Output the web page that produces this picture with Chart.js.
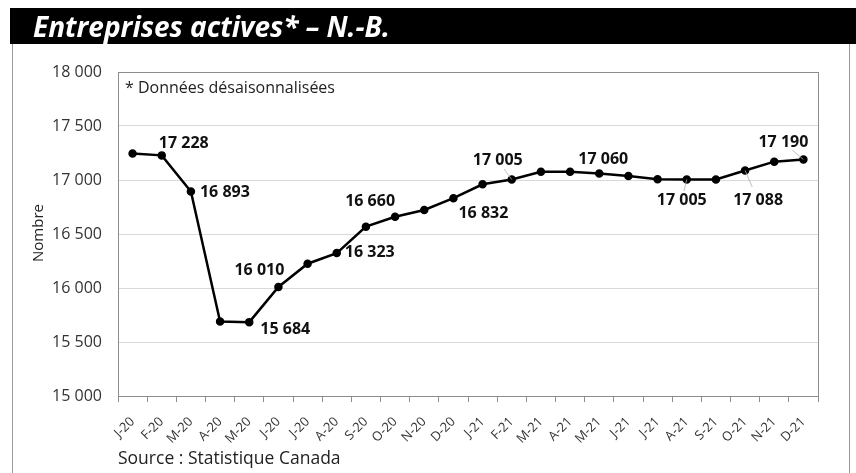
<!DOCTYPE html>
<html>
<head>
<meta charset="utf-8">
<script src="https://cdn.jsdelivr.net/npm/chart.js@4/dist/chart.umd.min.js"></script>
<style>
  html, body { margin: 0; padding: 0; background: #fff; }
  #wrap { width: 856px; height: 473px; position: relative; }
</style>
</head>
<body>
<div id="wrap"><canvas id="chart" width="856" height="473"></canvas></div>
<script>
// Monthly labels, Jan 2020 to Dec 2021
const months = ['J-20', 'F-20', 'M-20', 'A-20', 'M-20', 'J-20', 'J-20', 'A-20', 'S-20', 'O-20', 'N-20', 'D-20',
                'J-21', 'F-21', 'M-21', 'A-21', 'M-21', 'J-21', 'J-21', 'A-21', 'S-21', 'O-21', 'N-21', 'D-21'];

// Active businesses, seasonally adjusted
const activeBusinesses = [17245, 17228, 16893, 15690, 15684, 16010, 16225, 16323, 16568, 16660, 16722, 16832,
                          16960, 17005, 17077, 17077, 17060, 17037, 17008, 17005, 17005, 17088, 17170, 17190];

const yTicks = [15000, 15500, 16000, 16500, 17000, 17500, 18000];

const titleText = 'Entreprises actives* \u2013 N.-B.';
const noteText = '* Donn\u00e9es d\u00e9saisonnalis\u00e9es';
const sourceText = 'Source : Statistique Canada';
const yTitle = 'Nombre';

// Where each value label sits relative to its point (dx, dy, leader line)
const labelPlacement = {
  1: [22, -12], 2: [34, 1], 4: [36, 7], 5: [-19, -16], 7: [33, -1], 9: [-25, -15],
  11: [30, 15], 13: [-14, -19, true], 16: [4, -14], 19: [-5, 21, true], 21: [13, 30, true], 23: [-20, -17, true]
};

const FONT = "'Open Sans', 'Noto Sans', sans-serif";
const fmt = v => String(v).replace(/\B(?=(\d{3})+(?!\d))/g, ' ');

const decorations = {
  id: 'decorations',
  beforeDraw(chart) {
    const ctx = chart.ctx;
    ctx.save();
    ctx.fillStyle = '#fff';
    ctx.fillRect(0, 0, chart.width, chart.height);
    // title bar
    ctx.fillStyle = '#000';
    ctx.fillRect(10, 8, 846, 36);
    ctx.fillStyle = '#fff';
    ctx.font = `italic bold 28px ${FONT}`;
    ctx.textBaseline = 'alphabetic';
    ctx.fillText(titleText, 33, 37);
    // outer frame
    ctx.strokeStyle = '#9a9a9a';
    ctx.lineWidth = 1;
    ctx.beginPath();
    ctx.moveTo(12.5, 44); ctx.lineTo(12.5, 473);
    ctx.moveTo(849.5, 44); ctx.lineTo(849.5, 473);
    ctx.stroke();
    ctx.restore();
  },
  afterDatasetsDraw(chart) {
    const ctx = chart.ctx;
    const a = chart.chartArea;
    ctx.save();
    // plot box
    ctx.strokeStyle = '#8c8c8c';
    ctx.lineWidth = 1;
    ctx.strokeRect(Math.round(a.left) + 0.5, Math.round(a.top) + 0.5,
                   Math.round(a.right - a.left), Math.round(a.bottom - a.top));

    ctx.fillStyle = '#222';
    ctx.font = `16px ${FONT}`;
    ctx.textBaseline = 'middle';
    ctx.fillText(noteText, 125, 88);

    ctx.font = `17.5px ${FONT}`;
    ctx.fillText(sourceText, 118, 459);

    ctx.save();
    ctx.font = `15px ${FONT}`;
    ctx.translate(39, 233);
    ctx.rotate(-Math.PI / 2);
    ctx.textAlign = 'center';
    ctx.fillText(yTitle, 0, 0);
    ctx.restore();

    // value labels
    const meta = chart.getDatasetMeta(0);
    ctx.font = `bold 16px ${FONT}`;
    ctx.textAlign = 'center';
    ctx.textBaseline = 'middle';
    Object.keys(labelPlacement).forEach(k => {
      const i = Number(k);
      const [dx, dy, leader] = labelPlacement[k];
      const pt = meta.data[i];
      if (leader) {
        ctx.strokeStyle = '#b0b0b0';
        ctx.lineWidth = 0.8;
        ctx.beginPath();
        ctx.moveTo(pt.x, pt.y);
        ctx.lineTo(pt.x + dx * 0.55, pt.y + dy * 0.55);
        ctx.stroke();
      }
      ctx.fillStyle = '#111';
      ctx.fillText(fmt(activeBusinesses[i]), pt.x + dx, pt.y + dy);
    });
    ctx.restore();
  }
};

new Chart(document.getElementById('chart'), {
  type: 'line',
  data: {
    labels: months,
    datasets: [{
      data: activeBusinesses,
      borderColor: '#000',
      backgroundColor: '#000',
      borderWidth: 2.5,
      pointRadius: 3,
      pointHoverRadius: 3,
      tension: 0
    }]
  },
  options: {
    responsive: false,
    animation: false,
    events: [],
    layout: { padding: { top: 72, left: 0, right: 38, bottom: 27 } },
    plugins: { legend: { display: false }, tooltip: { enabled: false } },
    scales: {
      x: {
        offset: true,
        grid: { offset: true, drawOnChartArea: false, tickLength: 6, color: '#8c8c8c' },
        border: { color: '#8c8c8c' },
        ticks: {
          minRotation: 45, maxRotation: 45, padding: 12,
          color: '#333', font: { family: FONT, size: 13 }
        },
        afterFit(scale) { scale.height = 50; }
      },
      y: {
        min: 15000, max: 18000,
        afterBuildTicks(scale) { scale.ticks = yTicks.map(v => ({ value: v })); },
        grid: { color: '#d9d9d9', drawTicks: false },
        border: { color: '#8c8c8c' },
        ticks: {
          padding: 16, color: '#333',
          font: { family: FONT, size: 16 },
          callback: v => fmt(v)
        },
        afterFit(scale) { scale.width = 118; }
      }
    }
  },
  plugins: [decorations]
});
</script>
</body>
</html>
